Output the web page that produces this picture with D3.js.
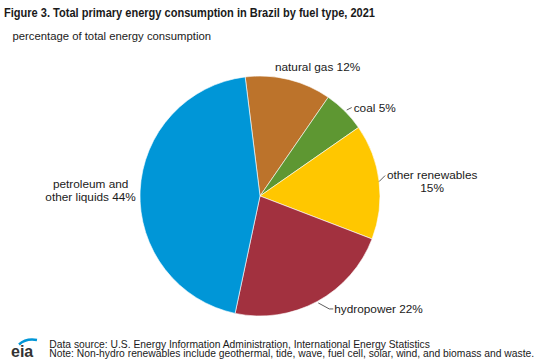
<!DOCTYPE html>
<html>
<head>
<meta charset="utf-8">
<script src="https://cdn.jsdelivr.net/npm/d3@7"></script>
<style>
  html, body { margin: 0; padding: 0; background: #fff; }
  svg { display: block; }
  text { font-family: "Liberation Sans", Arial, sans-serif; fill: #1a1a1a; }
</style>
</head>
<body>
<svg id="chart" width="538" height="364"></svg>
<script>
// ---- data ----
const categories = ["natural gas", "coal", "other renewables", "hydropower", "petroleum and other liquids"];
const shares = [11.6, 5.7, 15.5, 22.5, 44.7];
const labelTexts = [["natural gas 12%"], ["coal 5%"], ["other renewables", "15%"], ["hydropower 22%"], ["petroleum and", "other liquids 44%"]];
const colors = ["#BC732B", "#5E9732", "#FFC700", "#A2313F", "#0096D7"];

const titleText = "Figure 3. Total primary energy consumption in Brazil by fuel type, 2021";
const subtitleText = "percentage of total energy consumption";
const sourceText = "Data source: U.S. Energy Information Administration, International Energy Statistics";
const noteText = "Note: Non-hydro renewables include geothermal, tide, wave, fuel cell, solar, wind, and biomass and waste.";

// ---- layout ----
const svg = d3.select("#chart");
const cx = 260, cy = 196, R = 120;
const startDeg = -7.1;

svg.append("text").attr("x", 4).attr("y", 17)
  .attr("font-weight", "bold").attr("font-size", 12.5)
  .attr("textLength", 371).attr("lengthAdjust", "spacingAndGlyphs")
  .text(titleText);
svg.append("text").attr("x", 12.5).attr("y", 40).attr("font-size", 11.3).text(subtitleText);

const pie = d3.pie().sort(null).value(d => d)
  .startAngle(startDeg * Math.PI / 180)
  .endAngle((startDeg + 360) * Math.PI / 180);
const arcs = pie(shares);
const arc = d3.arc().innerRadius(0).outerRadius(R);

const g = svg.append("g").attr("transform", `translate(${cx},${cy})`);
g.selectAll("path.slice").data(arcs).enter().append("path")
  .attr("class", "slice")
  .attr("d", arc)
  .attr("fill", (d, i) => colors[i])
  .attr("stroke", "#ffffff").attr("stroke-width", 0.6);

// label placement relative to the slice mid-angle point on the rim
function rimPoint(d) {
  const a = (d.startAngle + d.endAngle) / 2;
  return [Math.sin(a) * R, -Math.cos(a) * R];
}
const fs = 11.8;
const labelLayer = g.append("g");
arcs.forEach((d, i) => {
  const [px, py] = rimPoint(d);
  const lines = labelTexts[i];
  if (i === 0) { // natural gas: above, no leader
    labelLayer.append("text").attr("x", px + 29).attr("y", py - 8.5)
      .attr("text-anchor", "middle").attr("font-size", fs).text(lines[0]);
  } else if (i === 1) { // coal
    labelLayer.append("path").attr("d", `M${px + 2},${py - 1} L${px + 7},${py - 3.5}`)
      .attr("stroke", "#333").attr("fill", "none").attr("stroke-width", 0.8);
    labelLayer.append("text").attr("x", px + 9).attr("y", py + 0.5)
      .attr("font-size", fs).text(lines[0]);
  } else if (i === 2) { // other renewables
    labelLayer.append("path").attr("d", `M${px},${py} L${px + 6},${py - 6}`)
      .attr("stroke", "#333").attr("fill", "none").attr("stroke-width", 0.8);
    lines.forEach((t, k) => {
      labelLayer.append("text").attr("x", px + 53).attr("y", py - 3 + k * 13)
        .attr("text-anchor", "middle").attr("font-size", fs).text(t);
    });
  } else if (i === 3) { // hydropower
    labelLayer.append("path").attr("d", `M${px + 1},${py + 1.5} L${px + 12},${py + 7.5} L${px + 16},${py + 7.5}`)
      .attr("stroke", "#333").attr("fill", "none").attr("stroke-width", 0.8);
    labelLayer.append("text").attr("x", px + 17).attr("y", py + 11.5)
      .attr("font-size", fs).text(lines[0]);
  } else { // petroleum
    lines.forEach((t, k) => {
      labelLayer.append("text").attr("x", px - 49.5).attr("y", py - 2.5 + k * 12.5)
        .attr("text-anchor", "middle").attr("font-size", fs).text(t);
    });
  }
});

// footer
const logo = svg.append("g");
logo.append("text").attr("x", 11).attr("y", 357).attr("font-size", 16)
  .attr("font-weight", "bold")
  .style("fill", "#333333").text("eia");
logo.append("path").attr("d", "M19,344.5 Q26,338 37,340")
  .attr("stroke", "#0096D7").attr("stroke-width", 2.4).attr("fill", "none");
svg.append("text").attr("x", 49.3).attr("y", 347.5).attr("font-size", 10.3).text(sourceText);
svg.append("text").attr("x", 49.3).attr("y", 357).attr("font-size", 10.3).text(noteText);
</script>
</body>
</html>
